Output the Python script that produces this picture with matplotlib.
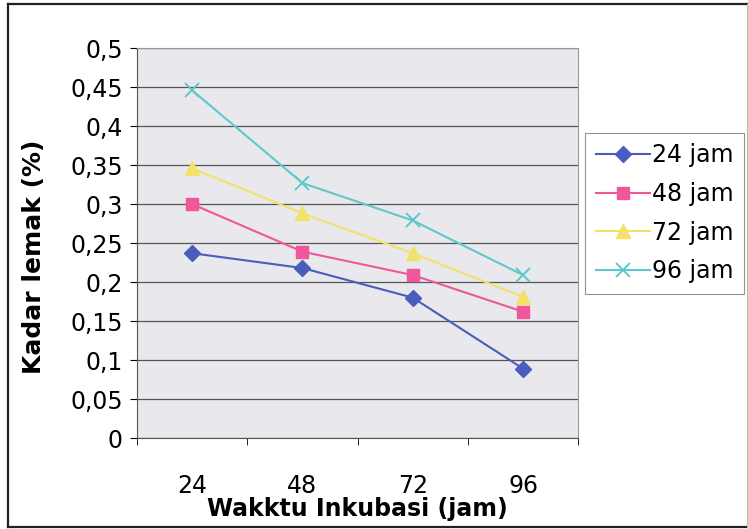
import matplotlib.pyplot as plt
from matplotlib.lines import Line2D
from matplotlib.ticker import FuncFormatter, MultipleLocator
import numpy as np

plt.rcParams["font.family"] = ["DejaVu Sans"]

waktu = ["24", "48", "72", "96"]
series_names = ["24 jam", "48 jam", "72 jam", "96 jam"]
kadar_24 = [0.237, 0.218, 0.180, 0.089]
kadar_48 = [0.300, 0.239, 0.209, 0.162]
kadar_72 = [0.346, 0.288, 0.237, 0.181]
kadar_96 = [0.446, 0.327, 0.279, 0.209]

styles = [
    dict(color="#4a5cbc", marker="D", markersize=8),
    dict(color="#f0569a", marker="s", markersize=8),
    dict(color="#f2e26a", marker="^", markersize=10),
    dict(color="#5fc8cc", marker="x", markersize=10, markeredgewidth=1.4),
]

fig = plt.figure(figsize=(7.48, 5.29), dpi=100)
ax = fig.add_axes([0.183, 0.172, 0.590, 0.737])
ax.set_facecolor("#e9e8ec")

x = np.arange(1, len(waktu) + 1)
for name, vals, st in zip(series_names, [kadar_24, kadar_48, kadar_72, kadar_96], styles):
    ax.plot(x, vals, label=name, linewidth=1.5, **st)

ax.set_xlim(0.5, len(waktu) + 0.5)
ax.set_ylim(0, 0.5)
ax.yaxis.set_major_locator(MultipleLocator(0.05))
ax.yaxis.set_major_formatter(FuncFormatter(
    lambda v, p: "0" if abs(v) < 1e-9 else f"{v:g}".replace(".", ",")))
ax.set_xticks(x)
ax.set_xticklabels(waktu)
ax.set_xticks(np.arange(0.5, len(waktu) + 1), minor=True)
ax.tick_params(axis="x", which="major", length=0, labelsize=17, pad=26)
ax.tick_params(axis="x", which="minor", length=5, direction="out")
ax.tick_params(axis="y", labelsize=17, length=5, direction="out", pad=5)

ax.grid(axis="y", color="#555555", linewidth=0.9)
ax.set_axisbelow(True)
for side in ["top", "right"]:
    ax.spines[side].set_color("#999999")
for side in ["left", "bottom"]:
    ax.spines[side].set_color("#555555")

ax.set_xlabel("Wakktu Inkubasi (jam)", fontsize=17, fontweight="bold", labelpad=-1)
ax.set_ylabel("Kadar lemak (%)", fontsize=18, fontweight="bold", labelpad=0)
ax.yaxis.set_label_coords(-0.207, 0.465)

leg = fig.legend(loc="upper left", bbox_to_anchor=(0.782, 0.749), fontsize=17,
                 frameon=True, fancybox=False, edgecolor="#777777",
                 handlelength=2.3, handletextpad=0.1, labelspacing=0.62,
                 borderpad=0.45, borderaxespad=0)
leg.get_frame().set_linewidth(0.8)

# outer frame: dark on three sides, faint on the right
frame = dict(transform=fig.transFigure, linewidth=1.6, color="#222222")
fig.add_artist(Line2D([0.011, 0.011], [0.004, 0.992], **frame))
fig.add_artist(Line2D([0.011, 0.998], [0.992, 0.992], **frame))
fig.add_artist(Line2D([0.011, 0.998], [0.004, 0.004], **frame))
fig.add_artist(Line2D([0.998, 0.998], [0.004, 0.992], transform=fig.transFigure,
                      linewidth=0.8, color="#bbbbbb"))

fig.savefig("out.png", dpi=100)
